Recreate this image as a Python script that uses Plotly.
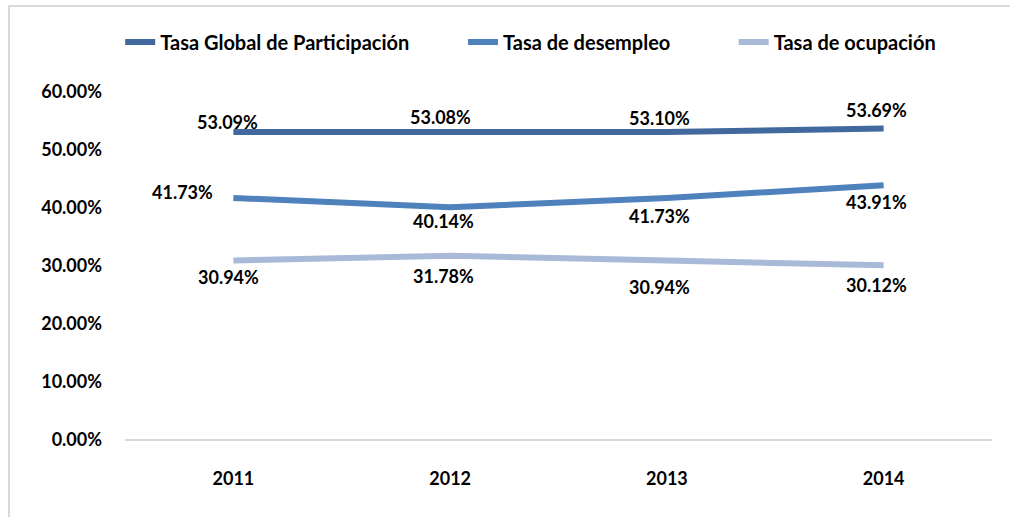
import plotly.graph_objects as go

years = ["2011", "2012", "2013", "2014"]
tasa_global = [0.5309, 0.5308, 0.5310, 0.5369]
tasa_desempleo = [0.4173, 0.4014, 0.4173, 0.4391]
tasa_ocupacion = [0.3094, 0.3178, 0.3094, 0.3012]
y_ticks = [0, 0.1, 0.2, 0.3, 0.4, 0.5, 0.6]

FONT = "Lato"
# (name, values, colour, label pixel offsets (dx, dy; dy positive = down), legend gap)
series = [
    ("Tasa Global de Participación", tasa_global, "#41699E",
     [(-6, -10), (-10, -15), (-7, -14), (-7, -19)], 10),
    ("Tasa de desempleo", tasa_desempleo, "#4F81BD",
     [(-51, -6), (-7, 14), (-7, 18), (-7, 17)], 12),
    ("Tasa de ocupación", tasa_ocupacion, "#A9BAD8",
     [(-5, 16), (-7, 20), (-7, 26), (-7, 20)], 0),
]

fig = go.Figure()
annotations = []
for name, vals, color, offs, gap in series:
    fig.add_trace(go.Scatter(
        x=years, y=vals, name=name + " " * gap, mode="lines",
        line=dict(color=color, width=6),
        cliponaxis=False, hoverinfo="skip",
    ))
    for i, (v, (dx, dy)) in enumerate(zip(vals, offs)):
        annotations.append(dict(
            x=i, y=v, xref="x", yref="y", text=f"{v*100:.2f}%",
            showarrow=False, xshift=dx, yshift=-dy,
            xanchor="center", yanchor="middle",
            font=dict(family=FONT, size=18, color="#000000", weight="bold"),
        ))

fig.update_layout(
    width=1010, height=517,
    margin=dict(l=125, r=18, t=92, b=77, autoexpand=False),
    paper_bgcolor="white", plot_bgcolor="white",
    font=dict(family=FONT, size=18, color="#000000"),
    showlegend=True,
    annotations=annotations,
    legend=dict(orientation="h", xref="container", x=0.119, xanchor="left",
                yref="container", y=0.919, yanchor="middle",
                font=dict(family=FONT, size=20, color="#000000", weight="bold"),
                bgcolor="rgba(0,0,0,0)"),
    xaxis=dict(type="category", range=[-0.5, 3.5], showgrid=False, zeroline=False,
               showline=False, ticks="",
               tickfont=dict(family=FONT, size=18, weight="bold"),
               ticklabelstandoff=26, automargin=False),
    yaxis=dict(range=[0, 0.6], tickvals=y_ticks, tickformat=".2%",
               showgrid=False, zeroline=True, zerolinecolor="#D9D9D9", zerolinewidth=2,
               showline=False, ticks="",
               tickfont=dict(family=FONT, size=18, weight="bold"),
               ticklabelstandoff=22, automargin=False),
    shapes=[dict(type="rect", xref="paper", yref="paper",
                 x0=-0.1338, x1=1.6, y0=-0.6, y1=1.247,
                 line=dict(color="#D9D9D9", width=2), fillcolor="rgba(0,0,0,0)", layer="below")],
)

fig.write_html("out.html", config={"displayModeBar": False},
               post_script="document.body.style.margin='0';document.body.style.overflow='hidden';")
